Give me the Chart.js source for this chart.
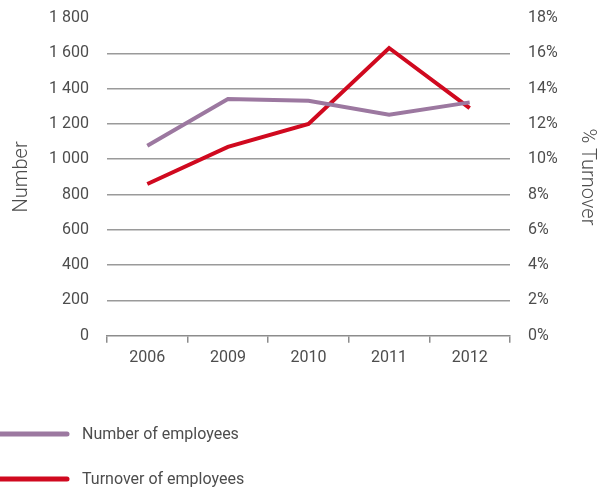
<!DOCTYPE html>
<html>
<head>
<meta charset="utf-8">
<script src="https://cdn.jsdelivr.net/npm/chart.js@4/dist/chart.umd.min.js"></script>
<style>
  html, body { margin: 0; padding: 0; background: #fff; }
  #wrap { width: 608px; height: 490px; position: relative; }
</style>
</head>
<body>
<div id="wrap"><canvas id="chart"></canvas></div>
<script>
// Data
const years = ['2006', '2009', '2010', '2011', '2012'];
const employees = [1076, 1341, 1331, 1252, 1322];
const turnover = [8.6, 10.7, 12.0, 16.3, 12.9];

const numberTicks = { min: 0, max: 1800, step: 200 };
const percentTicks = { min: 0, max: 18, step: 2 };

const textColor = '#4d4d4d';
const fontFamily = 'Roboto, "Open Sans", sans-serif';

function spaced(v) {
  return v.toString().replace(/\B(?=(\d{3})+(?!\d))/g, ' ');
}

// Legend drawn below the plot: long line swatch + label
const lineLegend = {
  id: 'lineLegend',
  afterDraw(chart) {
    const ctx = chart.ctx;
    ctx.save();
    chart.data.datasets.forEach(function (ds, i) {
      const y = 434 + i * 45;
      ctx.beginPath();
      ctx.lineCap = 'round';
      ctx.lineWidth = 5;
      ctx.strokeStyle = ds.borderColor;
      ctx.moveTo(-5, y);
      ctx.lineTo(67, y);
      ctx.stroke();
      ctx.fillStyle = textColor;
      ctx.font = '16px ' + fontFamily;
      ctx.textBaseline = 'middle';
      ctx.fillText(ds.label, 82, y + 1);
    });
    ctx.restore();
  }
};

const ctx = document.getElementById('chart').getContext('2d');
new Chart(ctx, {
  type: 'line',
  data: {
    labels: years,
    datasets: [
      {
        label: 'Number of employees',
        data: employees,
        yAxisID: 'y',
        borderColor: '#9c78a0',
        borderWidth: 4,
        pointRadius: 0,
        tension: 0
      },
      {
        label: 'Turnover of employees',
        data: turnover,
        yAxisID: 'y1',
        borderColor: '#d0091f',
        borderWidth: 4,
        pointRadius: 0,
        tension: 0
      }
    ]
  },
  options: {
    responsive: true,
    maintainAspectRatio: false,
    animation: false,
    layout: { padding: { top: 0, left: 3, right: 0, bottom: 116 } },
    plugins: {
      legend: { display: false },
      tooltip: { enabled: false }
    },
    scales: {
      x: {
        offset: true,
        border: { display: true, color: '#8c8c8c', width: 1.5 },
        grid: {
          offset: true,
          drawOnChartArea: false,
          drawTicks: true,
          tickLength: 7,
          color: '#8c8c8c',
          lineWidth: 1.5
        },
        ticks: {
          color: textColor,
          font: { family: fontFamily, size: 16 },
          padding: 6
        }
      },
      y: {
        position: 'left',
        min: numberTicks.min,
        max: numberTicks.max,
        afterFit: function (scale) {
          scale.width = 104;
          scale.paddingTop = 18;
        },
        border: { display: false },
        grid: {
          drawTicks: false,
          lineWidth: 1.5,
          color: function (c) {
            const v = c.tick && c.tick.value;
            return (v === numberTicks.max || v === numberTicks.min) ? 'rgba(0,0,0,0)' : '#9a9a9a';
          }
        },
        ticks: {
          stepSize: numberTicks.step,
          color: textColor,
          padding: 18,
          font: { family: fontFamily, size: 16 },
          callback: function (v) { return spaced(v); }
        },
        title: {
          display: true,
          text: 'Number',
          color: textColor,
          font: { family: fontFamily, size: 20, weight: 300 },
          padding: { top: 7, bottom: 0 }
        }
      },
      y1: {
        position: 'right',
        min: percentTicks.min,
        max: percentTicks.max,
        afterFit: function (scale) {
          scale.width = 98;
          scale.paddingTop = 18;
        },
        border: { display: false },
        grid: { display: false, drawTicks: false },
        ticks: {
          stepSize: percentTicks.step,
          color: textColor,
          padding: 18,
          font: { family: fontFamily, size: 16 },
          callback: function (v) { return v + '%'; }
        },
        title: {
          display: true,
          text: '% Turnover',
          color: textColor,
          font: { family: fontFamily, size: 20, weight: 300 },
          padding: { top: 9, bottom: 0 }
        }
      }
    }
  },
  plugins: [lineLegend]
});
</script>
</body>
</html>
